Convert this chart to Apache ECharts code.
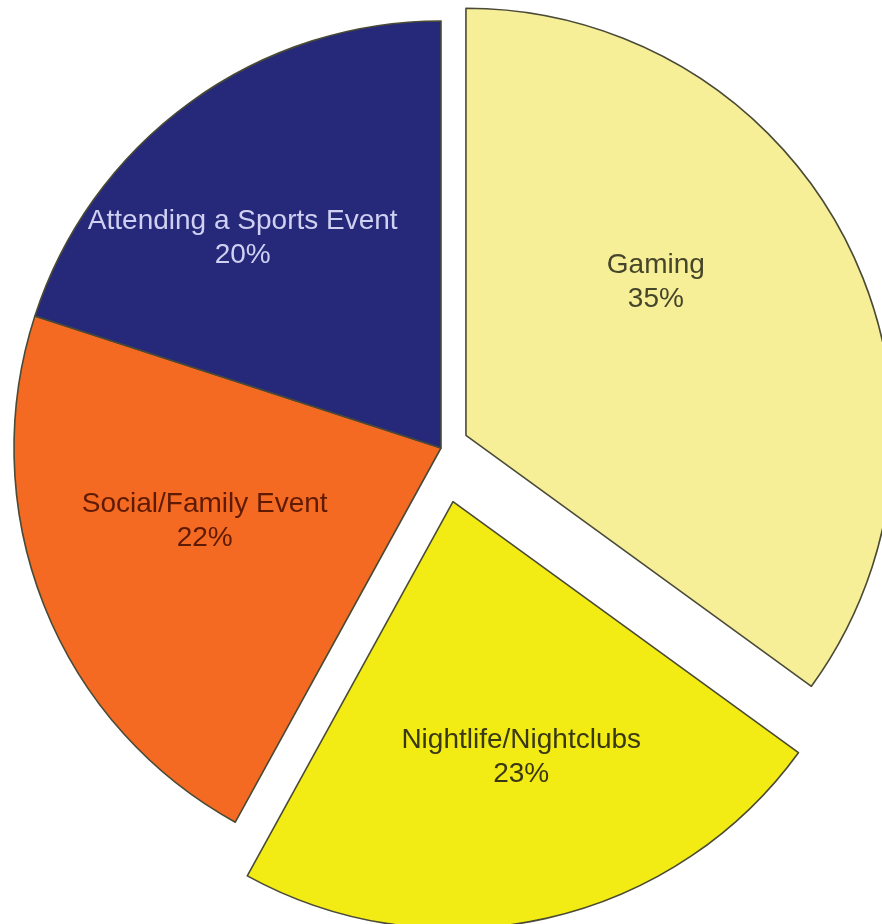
<!DOCTYPE html>
<html>
<head>
<meta charset="utf-8">
<title>Leisure activities</title>
<script src="https://cdn.jsdelivr.net/npm/echarts@6/dist/echarts.min.js"></script>
<style>
  html, body { margin: 0; padding: 0; background: #ffffff; }
  #chart { width: 882px; height: 924px; }
</style>
</head>
<body>
<div id="chart"></div>
<script>
// Activity shares (percent), clockwise from 12 o'clock
const categories = ['Gaming', 'Nightlife/Nightclubs', 'Social/Family Event', 'Attending a Sports Event'];
const shares = [35, 23, 22, 20];

// Slice styling
const sliceColors = ['#F6EF98', '#F2EC14', '#F46A22', '#26297A'];
const labelColors = ['#45452a', '#3a3812', '#5e1a02', '#cfd0f2'];
// Pull-out distance of each slice (px); 0 = stays in place
const explode = [28, 55, 0, 0];
// Label nudges from the default inner position
const labelShift = [[-3, -55], [21, 44], [-35, -6], [-71, -35]];

const center = [441, 448];
const radius = 427;

// One series per distinct pull-out distance: each draws only the slices
// that share that distance, the rest are left invisible to keep the angles.
const groups = [...new Set(explode)];

const series = groups.map(function (dist) {
  return {
    type: 'pie',
    center: center,
    radius: radius,
    startAngle: 90,
    clockwise: true,
    selectedMode: 'multiple',
    selectedOffset: dist,
    silent: true,
    animation: false,
    avoidLabelOverlap: false,
    emphasis: { disabled: true },
    label: {
      show: true,
      position: 'inner',
      fontFamily: '"Liberation Sans", Arial, sans-serif',
      fontSize: 28,
      lineHeight: 34,
      align: 'center',
      formatter: function (p) { return p.name + '\n' + p.value + '%'; }
    },
    labelLine: { show: false },
    labelLayout: function (p) {
      const s = labelShift[p.dataIndex];
      return { dx: s[0], dy: s[1] };
    },
    data: categories.map(function (name, i) {
      const own = explode[i] === dist;
      return {
        name: name,
        value: shares[i],
        selected: own && dist > 0,
        itemStyle: own
          ? { color: sliceColors[i], borderColor: '#4a4a36', borderWidth: 1.6 }
          : { color: 'rgba(0,0,0,0)', borderWidth: 0 },
        label: own ? { show: true, color: labelColors[i] } : { show: false }
      };
    })
  };
});

const chart = echarts.init(document.getElementById('chart'), null, { renderer: 'canvas' });
chart.setOption({
  backgroundColor: '#ffffff',
  series: series
});
</script>
</body>
</html>
